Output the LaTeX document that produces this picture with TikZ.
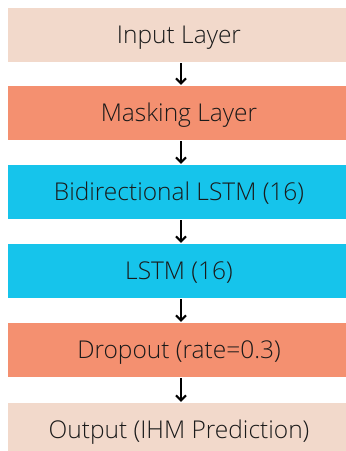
\documentclass[tikz,border=0pt]{standalone}
\usepackage{fontspec}
\setmainfont{Open Sans}[UprightFont={* Light}]
\usetikzlibrary{arrows.meta}
\definecolor{peach}{HTML}{F2D9CB}
\definecolor{salmon}{HTML}{F49070}
\definecolor{cyanbox}{HTML}{16C4EB}
\definecolor{txt}{HTML}{1A1A1A}
\begin{document}
\begin{tikzpicture}[x=1pt,y=1pt,
  layer/.style={minimum width=342pt,minimum height=54pt,inner sep=0pt,text=txt,
    text height=17.5pt,text depth=0pt,font=\fontsize{24.5}{28}\selectfont},
  conn/.style={line width=2pt,-{Straight Barb[length=5pt,width=10pt,line width=2pt]}}]
\clip (0,0) rectangle (346,-451);
\fill[white] (0,0) rectangle (346,-451);
\node[layer,fill=peach] (in) at (179,-35) {Input Layer};
\node[layer,fill=salmon] (mask) at (179,-113) {Masking Layer};
\node[layer,fill=cyanbox] (bi) at (179,-192) {Bidirectional LSTM (16)};
\node[layer,fill=cyanbox] (lstm) at (179,-271) {LSTM (16)};
\node[layer,fill=salmon] (drop) at (179,-350) {Dropout (rate=0.3)};
\node[layer,fill=peach] (out) at (179,-430) {Output (IHM Prediction)};
\foreach \a/\b in {in/mask,mask/bi,bi/lstm,lstm/drop,drop/out}
  \draw[conn] ([xshift=2pt,yshift=-1pt]\a.south) -- ([xshift=2pt,yshift=1pt]\b.north);
\end{tikzpicture}
\end{document}
